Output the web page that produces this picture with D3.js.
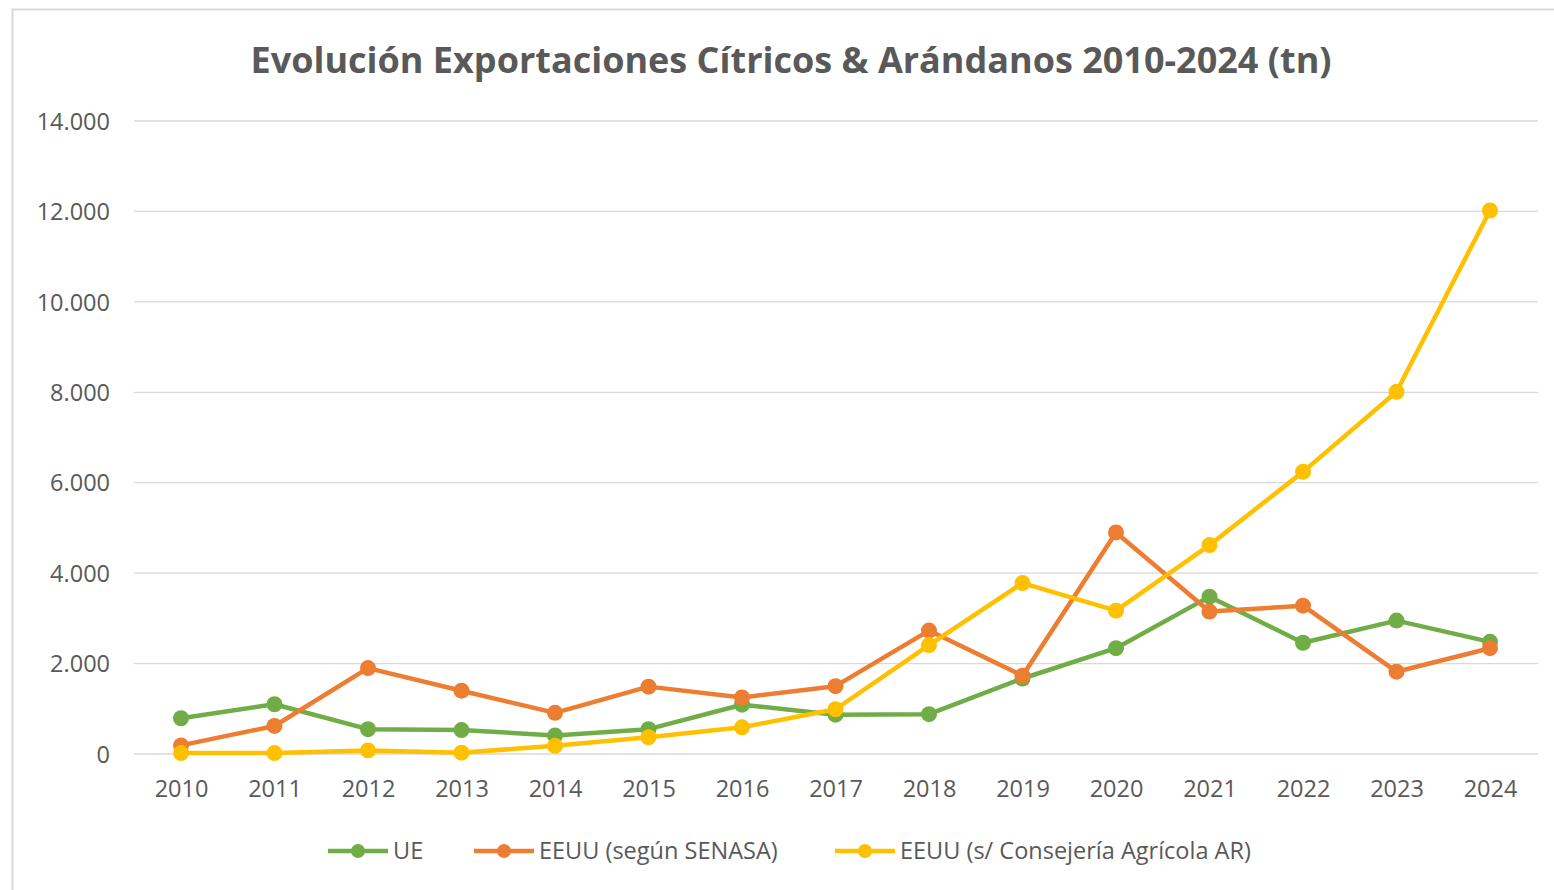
<!DOCTYPE html>
<html>
<head>
<meta charset="utf-8">
<script src="https://cdn.jsdelivr.net/npm/d3@7"></script>
<style>
  body { margin: 0; background: #fff; }
  text { font-family: "Open Sans", "Noto Sans", sans-serif; }
</style>
</head>
<body>
<script>
// data (tn)
var years = ["2010", "2011", "2012", "2013", "2014", "2015", "2016", "2017",
             "2018", "2019", "2020", "2021", "2022", "2023", "2024"];
var ue = [790, 1100, 550, 530, 410, 550, 1090, 870, 880, 1670, 2340, 3480, 2460, 2950, 2480];
var senasa = [190, 620, 1900, 1400, 910, 1490, 1250, 1500, 2730, 1730, 4900, 3150, 3280, 1820, 2340];
var consejeria = [20, 20, 80, 30, 180, 370, 590, 990, 2410, 3780, 3170, 4620, 6240, 8010, 12020];
var yTicks = [0, 2000, 4000, 6000, 8000, 10000, 12000, 14000];
var seriesNames = ["UE", "EEUU (según SENASA)", "EEUU (s/ Consejería Agrícola AR)"];
var colors = ["#70ad47", "#ed7d31", "#ffc000"];

var width = 1554;
var height = 890;

var svg = d3.select("body").append("svg")
    .attr("width", width)
    .attr("height", height);

// chart border
svg.append("rect")
    .attr("x", 12.5).attr("y", 9.5)
    .attr("width", 1560).attr("height", 900)
    .attr("fill", "#fff")
    .attr("stroke", "#d9d9d9")
    .attr("stroke-width", 2);

var x = d3.scalePoint().domain(years).range([181, 1490]);
var y = d3.scaleLinear().domain([0, 14000]).range([754, 121]);

var fmt = function(d) {
    return d3.format(",")(d).replace(/,/g, ".");
};

// gridlines
svg.append("g")
    .selectAll("line")
    .data(yTicks)
    .enter().append("line")
    .attr("x1", 134).attr("x2", 1538)
    .attr("y1", d => y(d)).attr("y2", d => y(d))
    .attr("stroke", "#d9d9d9")
    .attr("stroke-width", 1.3);

// y axis labels
var yAxis = d3.axisLeft(y).tickValues(yTicks).tickFormat(fmt).tickSize(0).tickPadding(0);
var gy = svg.append("g").attr("transform", "translate(110,0)").call(yAxis);
gy.select(".domain").remove();
gy.selectAll("text")
    .attr("fill", "#595959")
    .style("font-size", "23.5px")
    .attr("dy", "0.35em");

// x axis labels
var xAxis = d3.axisBottom(x).tickSize(0).tickPadding(0);
var gx = svg.append("g").attr("transform", "translate(0,780)").call(xAxis);
gx.select(".domain").remove();
gx.selectAll("text")
    .attr("fill", "#595959")
    .style("font-size", "23.5px");

// title
svg.append("text")
    .attr("x", 791).attr("y", 73)
    .attr("text-anchor", "middle")
    .attr("fill", "#595959")
    .style("font-size", "36px")
    .style("font-weight", "bold")
    .text("Evolución Exportaciones Cítricos & Arándanos 2010-2024 (tn)");

var allSeries = [ue, senasa, consejeria];

var line = d3.line()
    .x((d, i) => x(years[i]))
    .y(d => y(d));

allSeries.forEach(function(vals, k) {
    var g = svg.append("g");
    g.append("path")
        .datum(vals)
        .attr("d", line)
        .attr("fill", "none")
        .attr("stroke", colors[k])
        .attr("stroke-width", 4.5)
        .attr("stroke-linejoin", "round");
    g.selectAll("circle")
        .data(vals)
        .enter().append("circle")
        .attr("cx", (d, i) => x(years[i]))
        .attr("cy", d => y(d))
        .attr("r", 8)
        .attr("fill", colors[k]);
});

// legend
var legendX = [328, 474, 835];
var legend = svg.append("g");
seriesNames.forEach(function(name, k) {
    var lg = legend.append("g").attr("transform", `translate(${legendX[k]}, 851)`);
    lg.append("line")
        .attr("x1", 0).attr("x2", 60)
        .attr("stroke", colors[k])
        .attr("stroke-width", 4.5);
    lg.append("circle")
        .attr("cx", 30).attr("r", 7)
        .attr("fill", colors[k]);
    lg.append("text")
        .attr("x", 65).attr("dy", "0.35em")
        .attr("fill", "#595959")
        .style("font-size", "23.5px")
        .text(name);
});
</script>
</body>
</html>
